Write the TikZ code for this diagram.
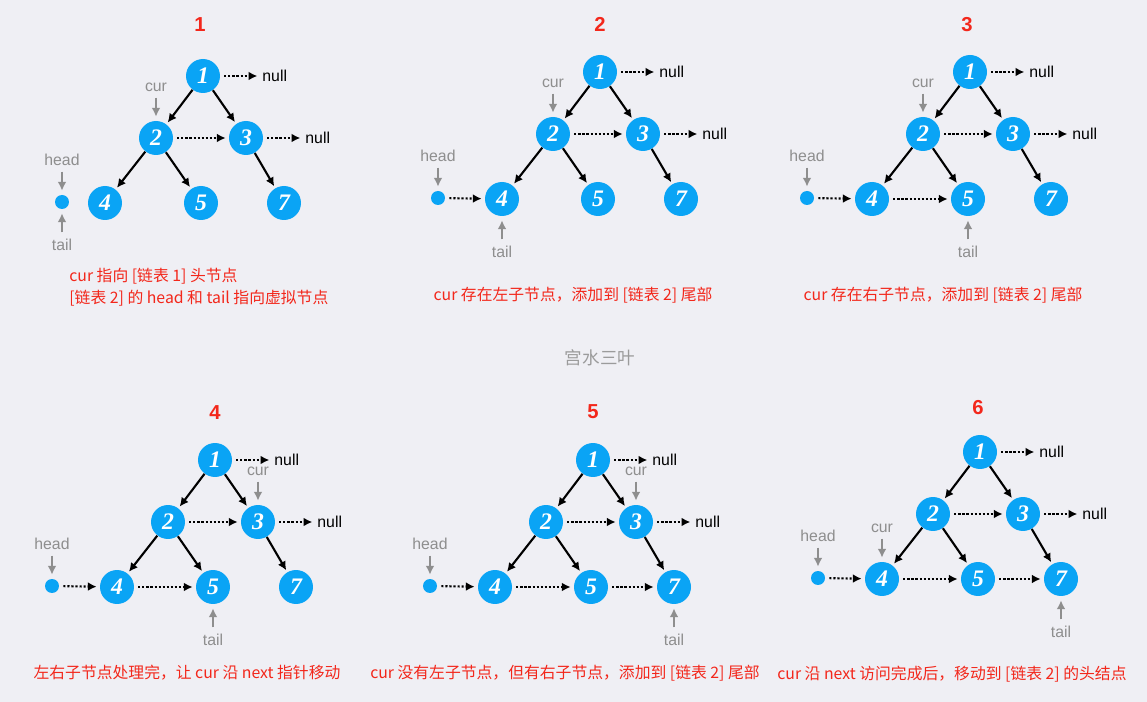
\documentclass[tikz,border=0pt]{standalone}
\usepackage{fontspec}
\setmainfont{Liberation Sans}
\newfontfamily\cjkfont{Noto Sans CJK SC}
\newfontfamily\numfont{Liberation Serif}
\usetikzlibrary{arrows.meta}
\usetikzlibrary{positioning}
\definecolor{NodeBlue}{HTML}{0AA4F5}
\definecolor{BgGray}{HTML}{EFEFF4}
\definecolor{PtrGray}{HTML}{8E8E8E}
\definecolor{TextRed}{HTML}{F3271B}
\definecolor{MarkGray}{HTML}{9B9B9B}
\tikzset{
  tnode/.style={circle,fill=NodeBlue,text=white,minimum size=6.8mm,inner sep=0pt,
    font=\numfont\bfseries\itshape\fontsize{13.5}{13.5}\selectfont},
  dummy/.style={circle,fill=NodeBlue,minimum size=2.8mm,inner sep=0pt},
  treeedge/.style={line width=1.2pt,-{Latex[length=5pt,width=5pt]},shorten >=0.4mm},
  nextlink/.style={line width=1.2pt,dash pattern=on 1.2pt off 1.1pt,
    -{Latex[length=5pt,width=5pt]},shorten <=0.8mm,shorten >=0.6mm},
  nulltext/.style={inner sep=1pt,font=\fontsize{9}{9}\selectfont},
  ptrtext/.style={inner sep=0pt,text=PtrGray,font=\fontsize{9}{9}\selectfont},
  ptr/.style={PtrGray,line width=1.2pt,-{Latex[length=5pt,width=5pt]},
    shorten <=1.2mm,shorten >=0.8mm},
  stagetitle/.style={text=TextRed,font=\bfseries\fontsize{11.5}{12}\selectfont},
  caption/.style={text=TextRed,inner sep=0pt,font=\cjkfont\fontsize{9}{12.5}\selectfont},
}

\begin{document}
\begin{tikzpicture}[x=0.02cm, y=-0.02cm]
  \fill[BgGray] (0,0) rectangle (1147,702);
  \useasboundingbox (0,0) rectangle (1147,702);

  % the same tree in every stage
  \foreach \p/\rx/\ry/\hx in {a/203/76/-141, b/600/72/-162, c/970/72/-163,
                              d/215/460/-163, e/593/460/-163, f/980/452/-162}{%
    \begin{scope}[shift={(\rx,\ry)}]
      \node[tnode] (\p-1) at (0,0) {1};
      \node[tnode] (\p-2) at (-47,62) {2};
      \node[tnode] (\p-3) at (43,62) {3};
      \node[tnode] (\p-4) at (-98,127) {4};
      \node[tnode] (\p-5) at (-2,127) {5};
      \node[tnode] (\p-7) at (81,127) {7};
      \node[dummy] (\p-h) at (\hx,126) {};
      \node[nulltext, right=8mm of \p-1] (\p-n1) {null};
      \node[nulltext, right=8mm of \p-3] (\p-n3) {null};
      \foreach \s/\t in {1/2,1/3,2/4,2/5,3/7}{%
        \draw[treeedge] (\p-\s) -- (\p-\t);
      }
      \draw[nextlink] (\p-1) -- (\p-n1);
      \draw[nextlink] (\p-2) -- (\p-3);
      \draw[nextlink] (\p-3) -- (\p-n3);
    \end{scope}
  }

  % head, cur and tail
  \foreach \p/\c/\t in {a/2/h, b/2/4, c/2/5, d/3/5, e/3/7, f/4/7}{%
    \node[ptrtext, above=5.8mm of \p-h] (\p-head) {head};
    \node[ptrtext, above=5.8mm of \p-\c] (\p-cur) {cur};
    \node[ptrtext, below=5.8mm of \p-\t] (\p-tail) {tail};
    \draw[ptr] (\p-head) -- (\p-h);
    \draw[ptr] (\p-cur) -- (\p-\c);
    \draw[ptr] (\p-tail) -- (\p-\t);
  }

  % list 2
  \foreach \s/\t in {b-h/b-4, c-h/c-4, c-4/c-5, d-h/d-4, d-4/d-5,
                     e-h/e-4, e-4/e-5, e-5/e-7, f-h/f-4, f-4/f-5, f-5/f-7}{%
    \draw[nextlink] (\s) -- (\t);
  }

  \node[stagetitle] (a-title) at (200,25) {1};
  \node[stagetitle] (b-title) at (600,24) {2};
  \node[stagetitle] (c-title) at (967,25) {3};
  \node[stagetitle] (d-title) at (215,413) {4};
  \node[stagetitle] (e-title) at (593,412) {5};
  \node[stagetitle] (f-title) at (978,408) {6};

  \node[caption, anchor=west, align=left] (a-cap) at (69,287)
    {cur 指向 [链表 1] 头节点\\{}[链表 2] 的 head 和 tail 指向虚拟节点};
  \node[caption] (b-cap) at (573,295) {cur 存在左子节点，添加到 [链表 2] 尾部};
  \node[caption] (c-cap) at (943,295) {cur 存在右子节点，添加到 [链表 2] 尾部};
  \node[caption] (d-cap) at (187,673) {左右子节点处理完，让 cur 沿 next 指针移动};
  \node[caption] (e-cap) at (565,673) {cur 没有左子节点，但有右子节点，添加到 [链表 2] 尾部};
  \node[caption] (f-cap) at (952,674) {cur 沿 next 访问完成后，移动到 [链表 2] 的头结点};

  \node[text=MarkGray, font=\cjkfont\fontsize{10}{10}\selectfont] (wm) at (600,358) {宫水三叶};
\end{tikzpicture}
\end{document}
